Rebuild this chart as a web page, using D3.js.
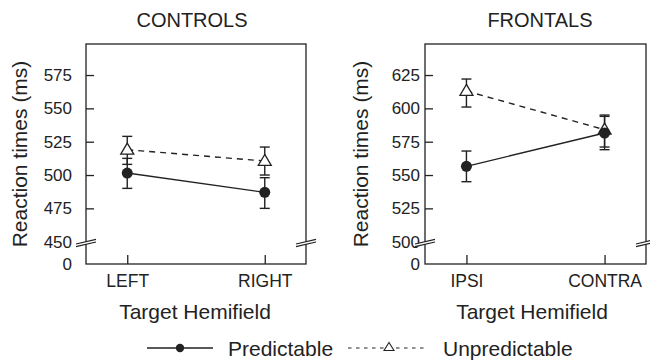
<!DOCTYPE html>
<html>
<head>
<meta charset="utf-8">
<style>
  body { margin: 0; background: #fff; }
  svg text { font-family: "Liberation Sans", Arial, Helvetica, sans-serif; fill: #222; }
</style>
</head>
<body>
<div id="chart"></div>
<script src="https://cdn.jsdelivr.net/npm/d3@7"></script>
<script>
// values (ms)
var controlsCats = ["LEFT", "RIGHT"];
var controlsPred = [501.5, 487];
var controlsPredLo = [490, 475];
var controlsPredHi = [512.5, 498];
var controlsUnpred = [519, 510.5];
var controlsUnpredLo = [508, 500];
var controlsUnpredHi = [529, 521];
var controlsTicks = [0, 450, 475, 500, 525, 550, 575];

var frontalsCats = ["IPSI", "CONTRA"];
var frontalsPred = [556.5, 581.5];
var frontalsPredLo = [545, 569];
var frontalsPredHi = [568, 595];
var frontalsUnpred = [613, 584];
var frontalsUnpredLo = [601, 571];
var frontalsUnpredHi = [622, 594];
var frontalsTicks = [0, 500, 525, 550, 575, 600, 625];

var seriesNames = ["Predictable", "Unpredictable"];

var ink = "#222";
var svg = d3.select("#chart").append("svg")
    .attr("width", 650).attr("height", 360);

// bottom of frame, break level, top of frame
var yBottom = 264, yBreak = 241.7, yTop = 44;

function drawPanel(p) {
    var g = svg.append("g");
    var brk = p.ticks[1];
    var top = brk + (yBreak - yTop) * 0.75;

    var x = d3.scalePoint().domain(p.cats).range([p.left, p.right]).padding(0.3);
    var y = d3.scaleLinear().domain([0, brk, top]).range([yBottom, yBreak, yTop]);

    // frame
    g.append("rect")
        .attr("x", p.left).attr("y", yTop)
        .attr("width", p.right - p.left).attr("height", yBottom - yTop)
        .attr("fill", "none").attr("stroke", ink).attr("stroke-width", 1.3);

    // y axis with inward ticks
    var yAxis = g.append("g")
        .attr("transform", "translate(" + p.left + ",0)")
        .call(d3.axisLeft(y).tickValues(p.ticks).tickSize(-8).tickPadding(p.pad));
    yAxis.select(".domain").remove();
    yAxis.selectAll(".tick line").attr("stroke", ink).attr("stroke-width", 1.3)
        .filter(function(d) { return d <= brk; }).remove();
    yAxis.selectAll(".tick text").style("font-size", "17px").attr("fill", ink)
        .attr("font-family", null);

    // x axis with inward ticks
    var xAxis = g.append("g")
        .attr("transform", "translate(0," + yBottom + ")")
        .call(d3.axisBottom(x).tickSize(-9).tickPadding(0));
    xAxis.select(".domain").remove();
    xAxis.selectAll(".tick line").attr("stroke", ink).attr("stroke-width", 1.3);
    xAxis.selectAll(".tick text").style("font-size", "17.5px").attr("fill", ink)
        .attr("y", 23).attr("dy", null);

    // axis break marks on both frame sides
    [p.left, p.right].forEach(function(bx) {
        var by = y(brk) + 1.3;
        g.append("path")
            .attr("d", "M" + (bx - 10) + "," + (by + 1) + "L" + (bx + 10) + "," + (by - 3.7)
                + "L" + (bx + 10) + "," + (by - 1) + "L" + (bx - 10) + "," + (by + 3.7) + "Z")
            .attr("fill", "#fff").attr("stroke", "none");
        g.append("line")
            .attr("x1", bx - 10).attr("y1", by + 1).attr("x2", bx + 10).attr("y2", by - 3.7)
            .attr("stroke", ink).attr("stroke-width", 1.2);
        g.append("line")
            .attr("x1", bx - 10).attr("y1", by + 3.7).attr("x2", bx + 10).attr("y2", by - 1)
            .attr("stroke", ink).attr("stroke-width", 1.2);
    });

    // titles
    g.append("text")
        .attr("x", p.titleX).attr("y", 27)
        .attr("text-anchor", "middle").style("font-size", "20px")
        .text(p.title);
    g.append("text")
        .attr("x", p.axisTitleX).attr("y", 319)
        .attr("text-anchor", "middle").style("font-size", "21px")
        .text("Target Hemifield");
    g.append("text")
        .attr("transform", "translate(" + p.labelX + "," + (yTop + yBottom) / 2 + ") rotate(-90)")
        .attr("text-anchor", "middle").style("font-size", "21px")
        .text("Reaction times (ms)");

    function series(vals, lo, hi, dashed, marker) {
        var pts = p.cats.map(function(c, i) { return { c: c, v: vals[i], lo: lo[i], hi: hi[i] }; });
        g.append("path").datum(pts)
            .attr("d", d3.line().x(function(d) { return x(d.c); }).y(function(d) { return y(d.v); }))
            .attr("fill", "none").attr("stroke", ink).attr("stroke-width", 1.4)
            .attr("stroke-dasharray", dashed ? "6,5" : null);
        pts.forEach(function(d) {
            var cx = x(d.c);
            g.append("line").attr("x1", cx).attr("x2", cx).attr("y1", y(d.lo)).attr("y2", y(d.hi))
                .attr("stroke", ink).attr("stroke-width", 1.4);
            [d.lo, d.hi].forEach(function(e) {
                g.append("line").attr("x1", cx - 5).attr("x2", cx + 5).attr("y1", y(e)).attr("y2", y(e))
                    .attr("stroke", ink).attr("stroke-width", 1.4);
            });
        });
        pts.forEach(function(d) { marker(x(d.c), y(d.v), 1); });
    }

    series(p.unpred, p.unpredLo, p.unpredHi, true, triangle);
    series(p.pred, p.predLo, p.predHi, false, circle);
}

function circle(cx, cy, s) {
    svg.append("circle").attr("cx", cx).attr("cy", cy).attr("r", 5.5 * s)
        .attr("fill", ink).attr("stroke", "none");
}
function triangle(cx, cy, s) {
    var w = 6.5 * s, h = 11 * s;
    svg.append("path")
        .attr("d", "M" + cx + "," + (cy - h * 0.6) + "L" + (cx + w) + "," + (cy + h * 0.4)
            + "L" + (cx - w) + "," + (cy + h * 0.4) + "Z")
        .attr("fill", "#fff").attr("stroke", ink).attr("stroke-width", 1.3);
}

drawPanel({
    title: "CONTROLS", titleX: 192, labelX: 27, axisTitleX: 195,
    left: 86, right: 306, pad: 14,
    cats: controlsCats, ticks: controlsTicks,
    pred: controlsPred, predLo: controlsPredLo, predHi: controlsPredHi,
    unpred: controlsUnpred, unpredLo: controlsUnpredLo, unpredHi: controlsUnpredHi
});
drawPanel({
    title: "FRONTALS", titleX: 540, labelX: 368, axisTitleX: 532,
    left: 425, right: 646, pad: 5,
    cats: frontalsCats, ticks: frontalsTicks,
    pred: frontalsPred, predLo: frontalsPredLo, predHi: frontalsPredHi,
    unpred: frontalsUnpred, unpredLo: frontalsUnpredLo, unpredHi: frontalsUnpredHi
});

// legend
var leg = svg.append("g");
var ly = 348;
leg.append("line").attr("x1", 147).attr("x2", 213).attr("y1", ly).attr("y2", ly)
    .attr("stroke", ink).attr("stroke-width", 1.4);
leg.append("circle").attr("cx", 180).attr("cy", ly).attr("r", 4.2).attr("fill", ink);
leg.append("text").attr("x", 228).attr("y", 356).style("font-size", "21px").text(seriesNames[0]);
leg.append("line").attr("x1", 348).attr("x2", 427).attr("y1", ly).attr("y2", ly)
    .attr("stroke", ink).attr("stroke-width", 1.1).attr("stroke-dasharray", "3.5,4.5");
leg.append("path")
    .attr("d", "M389,342.5L394,350.5L384,350.5Z")
    .attr("fill", "#fff").attr("stroke", ink).attr("stroke-width", 1.1);
leg.append("text").attr("x", 443).attr("y", 356).style("font-size", "21px").text(seriesNames[1]);
</script>
</body>
</html>
